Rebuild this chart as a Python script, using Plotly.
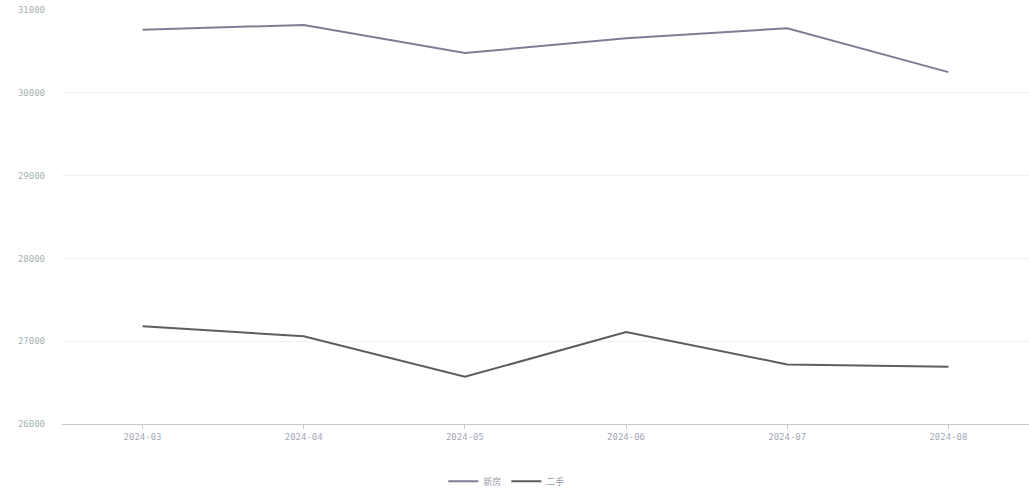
import plotly.graph_objects as go

months = ["2024-03", "2024-04", "2024-05", "2024-06", "2024-07", "2024-08"]
series_a_name = "新房"
series_a = [30760, 30820, 30480, 30660, 30780, 30250]
series_b_name = "二手"
series_b = [27180, 27060, 26570, 27110, 26720, 26690]
y_ticks = [26000, 27000, 28000, 29000, 30000, 31000]
y_tick_labels = ["26000", "27000", "28000", "29000", "30000", "31000"]

fig = go.Figure()
fig.add_trace(go.Scatter(x=months, y=series_a, name=series_a_name, mode="lines",
                         line=dict(color="#857a96", width=2)))
fig.add_trace(go.Scatter(x=months, y=series_b, name=series_b_name, mode="lines",
                         line=dict(color="#5b5f58", width=2)))

fig.update_layout(
    width=1029, height=490,
    margin=dict(l=62, r=0, t=10, b=66, autoexpand=False),
    paper_bgcolor="white", plot_bgcolor="white",
    font=dict(family="DejaVu Sans Mono, Noto Sans CJK SC", size=9, color="#a8aab8"),
    showlegend=True,
    legend=dict(orientation="h", x=0.46, xanchor="center", y=-0.138, yanchor="middle",
                font=dict(family="Noto Sans CJK SC", size=9, color="#9a9aa8"), itemwidth=30),
    xaxis=dict(type="category", showgrid=False, showline=True, linecolor="#c8c8cc",
               ticks="outside", ticklen=4, tickcolor="#c8c8cc", automargin=False,
               tickfont=dict(size=9, color="#a6a8b8"), range=[-0.5, 5.5]),
    yaxis=dict(range=[26000, 31000], tickvals=y_ticks, ticktext=y_tick_labels,
               showgrid=True, gridcolor="#f1f1f3", automargin=False,
               zeroline=False, showline=False, tickfont=dict(size=9, color="#a6b4b0"),
               ticks="", ticklabelstandoff=16),
)

fig.write_html("out.html", config={"displayModeBar": False},
               post_script="document.body.style.margin='0';document.body.style.overflow='hidden';")
